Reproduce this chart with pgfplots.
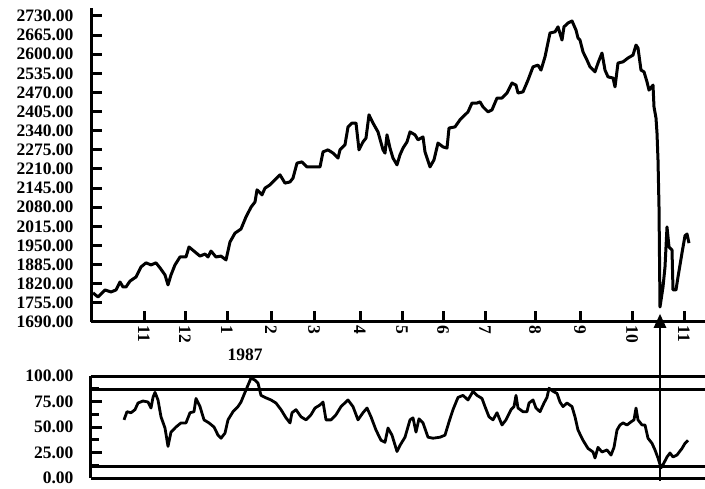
\documentclass[border=0pt]{standalone}
\usepackage{fontspec}
\setmainfont{Liberation Serif}
\usepackage{pgfplots}
\pgfplotsset{compat=1.18}
\usetikzlibrary{arrows.meta}

\pgfplotsset{
  panel/.style={
    scale only axis, width=614pt, xmin=0, xmax=614,
    axis x line*=bottom, axis y line*=left,
    axis line style={-, line width=3pt},
    tick align=inside, ytick pos=left, xtick pos=bottom,
    major tick length=11pt, minor tick length=8pt,
    every tick/.style={black, line width=3pt},
    tick label style={font=\fontsize{17.5}{19}\selectfont\bfseries},
    /pgf/number format/assume math mode=true,
    yticklabel style={/pgf/number format/fixed, /pgf/number format/fixed zerofill,
      /pgf/number format/precision=2, /pgf/number format/1000 sep={}, xshift=-14pt},
    scaled y ticks=false,
    clip=false,
  }
}

\begin{document}
\begin{tikzpicture}
% price panel
\begin{axis}[panel, at={(91pt,166pt)}, anchor=south west, height=314pt,
    ymin=1690, ymax=2757, ytick={1690,1755,...,2730},
    xtick={53,94,136,180,223,269,311,352,394,444,489,541,593},
    xticklabels={11,12,1,2,3,4,5,6,7,8,9,10,11},
    xticklabel style={rotate=-90, anchor=west}]
\addplot[black, line width=3pt, line join=round] coordinates {
(2,1789)(7,1775)(14,1799)(20,1792)(25,1799)(29,1826)(32,1809)(35,1809)(39,1829)(45,1843)
(50,1877)(55,1891)(60,1884)(65,1891)(69,1874)(74,1850)(77,1816)(80,1850)(84,1884)(89,1911)
(95,1911)(98,1945)(104,1928)(109,1914)(114,1921)(117,1911)(120,1931)(125,1911)(130,1914)(135,1901)
(139,1962)(144,1992)(150,2006)(155,2047)(160,2080)(164,2098)(166,2139)(171,2122)(174,2145)(179,2156)
(184,2173)(189,2190)(194,2162)(199,2166)(202,2179)(206,2230)(211,2234)(216,2217)(222,2217)(229,2217)
(232,2268)(237,2275)(242,2264)(247,2247)(249,2275)(254,2292)(257,2353)(261,2366)(265,2366)(268,2275)
(272,2302)(275,2315)(278,2394)(282,2366)(287,2336)(292,2275)(294,2264)(296,2326)(299,2281)(302,2247)
(306,2224)(309,2258)(312,2281)(316,2302)(319,2336)(324,2326)(327,2309)(332,2319)(334,2268)(339,2217)
(343,2241)(347,2298)(352,2285)(356,2281)(358,2349)(364,2353)(369,2377)(377,2404)(381,2434)(386,2434)
(389,2438)(392,2421)(397,2404)(401,2411)(406,2451)(411,2451)(416,2468)(421,2502)(425,2495)(427,2468)
(432,2472)(437,2512)(442,2557)(447,2563)(450,2546)(454,2591)(459,2672)(464,2676)(467,2693)(471,2648)
(473,2693)(477,2706)(481,2713)(485,2682)(487,2655)(489,2648)(492,2608)(496,2580)(499,2557)(504,2540)
(507,2570)(511,2604)(514,2546)(517,2523)(522,2519)(524,2489)(527,2570)(532,2574)(537,2587)(542,2597)
(545,2631)(547,2621)(550,2546)(553,2540)(556,2506)(558,2478)(562,2495)(563,2421)(565,2383)(566,2332)
(567,2241)(568,2081)(569,1741)(572,1809)(574,1877)(576,2013)(578,1945)(581,1935)(582,1799)(585,1799)
(587,1843)(591,1925)(594,1983)(596,1989)(598,1958)
};
% inward tick marks on the price scale
\pgfplotsinvokeforeach{1690,1755,1820,1885,1950,2015,2080,2145,2210,2275,2340,2405,2470,2535,2600,2665,2730}{
  \draw[line width=3pt] (axis cs:0,#1) -- ([xshift=11pt]axis cs:0,#1);
}
\node[font=\fontsize{17.5}{19}\selectfont\bfseries] at (axis cs:154,1690) [yshift=-33pt] {1987};
\coordinate (tip) at (axis cs:569,1718);
\end{axis}

% oscillator panel
\begin{axis}[panel, at={(91pt,10pt)}, anchor=south west, height=102pt,
    ymin=0, ymax=100, ytick={0,25,...,100}, minor y tick num=1, xtick=\empty]
\addplot[black, line width=3pt] coordinates {(0,100)(614,100)};
\addplot[black, line width=3pt] coordinates {(0,86.3)(614,86.3)};
\addplot[black, line width=3pt] coordinates {(0,10.8)(614,10.8)};
\addplot[black, line width=2.8pt, line join=round] coordinates {
(33,57)(36,65)(40,64)(44,67)(47,73.5)(52,75.5)(57,74.5)(60,68.6)(62,79)(64,84)
(67,76.5)(70,60)(74,49)(77,31)(80,45)(85,50)(90,54)(95,54)(99,64)(103,65)
(105,78)(109,70)(113,57)(118,54)(123,50)(127,42)(130,39)(134,44)(137,57)(142,65)
(147,70)(150,74.5)(154,84)(157,91)(160,98)(164,96)(167,93)(170,81)(174,79)(180,76.5)
(185,73.5)(190,67)(195,59)(199,54)(201,64)(205,67)(210,60)(215,57)(220,62)(224,68.6)
(229,71.6)(232,74.5)(235,57)(240,57)(245,62)(250,70)(257,76.5)(262,70)(267,57)(272,64)
(276,68.6)(280,60)(285,47)(290,37)(294,35)(297,49)(301,42)(306,26)(309,32)(314,40)
(319,57)(322,59)(325,45)(328,58)(332,54)(337,40)(342,39)(349,40)(354,42)(358,55)
(362,67)(367,79)(372,81)(377,76.5)(382,85)(386,81)(391,78)(394,70)(398,60)(402,57)
(406,64)(411,52)(415,57)(420,67)(423,70)(425,81)(427,68.6)(432,65)(436,65)(438,73.5)
(442,76.5)(445,68.6)(449,65)(453,73.5)(456,79)(458,88)(462,85)(466,83)(469,74.5)(472,70)
(476,73.5)(481,70)(484,60)(487,47)(492,37)(497,29)(502,25.5)(504,19.6)(507,30)(511,25.5)
(516,27.5)(520,22.5)(523,30)(526,47)(529,52)(532,54)(536,52)(540,55)(543,57)(545,68.6)
(547,57)(551,52)(554,52)(557,39)(561,34)(564,27.5)(567,19.6)(570,10)(572,13)(576,20.6)
(579,24.5)(582,20.6)(586,22.5)(591,29)(594,34)(597,37)
};
\pgfplotsinvokeforeach{0,12.5,25,37.5,50,62.5,75,87.5,100}{
  \draw[line width=3pt] (axis cs:0,#1) -- ([xshift=8pt]axis cs:0,#1);
}
\coordinate (base) at (axis cs:569,-3);
\end{axis}
\draw[line width=2.6pt, -{Triangle[length=14pt,width=12pt]}] (base) -- (tip);
\pgfresetboundingbox
\path (0,0) rectangle (705pt,488pt);
\end{tikzpicture}
\end{document}
